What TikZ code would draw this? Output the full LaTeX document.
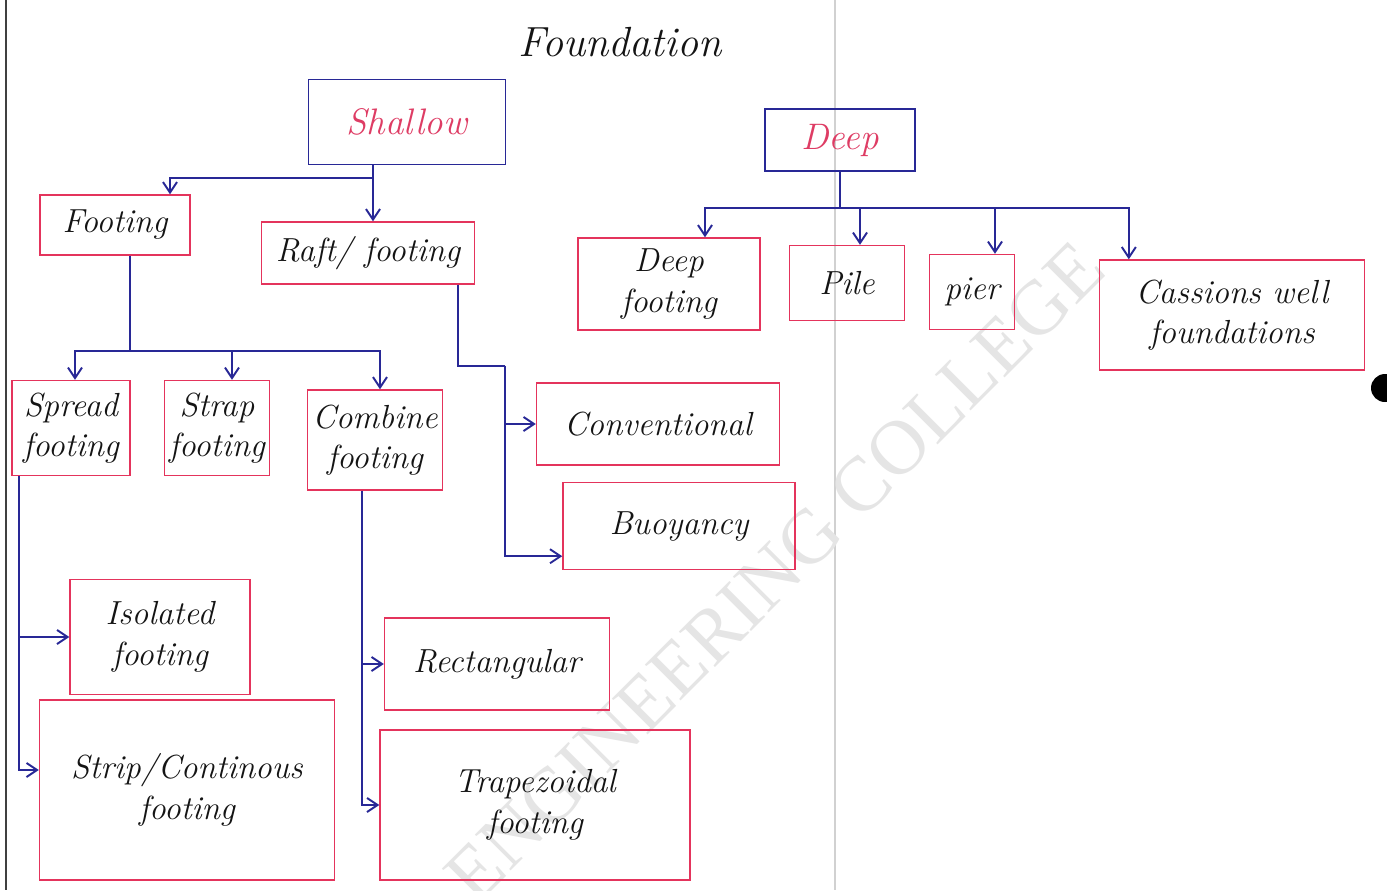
\documentclass[tikz,border=0pt]{standalone}
\usepackage{fontspec}
\newfontfamily\wmfont{Liberation Serif}
\usetikzlibrary{calc,arrows.meta}
\definecolor{boxred}{RGB}{228,52,92}
\definecolor{penblue}{RGB}{40,40,150}
\definecolor{inkred}{RGB}{222,60,100}
\definecolor{ink}{RGB}{20,20,20}
\tikzset{
  box/.style={draw=boxred, line width=0.8pt, align=center, text=ink,
    font=\fontsize{19}{23}\selectfont\itshape, inner sep=2pt},
  topbox/.style={draw=penblue, line width=1pt, align=center, text=inkred,
    font=\fontsize{21}{25}\selectfont\itshape},
  wire/.style={draw=penblue, line width=1.1pt},
  arr/.style={wire, -{Straight Barb[length=6pt,width=8pt]}},
}
\begin{document}
\begin{tikzpicture}[x=0.02cm, y=-0.02cm]
\useasboundingbox (0,0) rectangle (1387,890);
% page artefacts
\draw[black!75, line width=0.8pt] (6,0) -- (6,890);
\draw[black!18, line width=0.8pt] (835,0) -- (835,890);
\fill[black] (1385,388) circle (14);
% watermark
\node[rotate=45, text=black!10, font=\fontsize{44}{44}\selectfont\wmfont]
  (wm) at (775,572) {ENGINEERING COLLEGE};

% title
\node[font=\fontsize{24}{28}\selectfont\itshape, text=ink] (title) at (620,42) {Foundation};

% level 1
\node[topbox, minimum width=197*0.02cm, minimum height=85*0.02cm] (shallow) at (407,122) {Shallow};
\node[topbox, minimum width=150*0.02cm, minimum height=62*0.02cm] (deep) at (840,140) {Deep};

% level 2
\node[box, minimum width=150*0.02cm, minimum height=60*0.02cm] (footing) at (115,225) {Footing};
\node[box, minimum width=213*0.02cm, minimum height=62*0.02cm] (raft) at (368,253) {Raft/ footing};
\node[box, minimum width=182*0.02cm, minimum height=92*0.02cm] (dfoot) at (669,284) {Deep\\footing};
\node[box, minimum width=115*0.02cm, minimum height=75*0.02cm] (pile) at (847,283) {Pile};
\node[box, minimum width=85*0.02cm, minimum height=75*0.02cm] (pier) at (972,292) {pier};
\node[box, minimum width=265*0.02cm, minimum height=110*0.02cm] (cassion) at (1232,315) {Cassions well\\foundations};

% level 3
\node[box, minimum width=118*0.02cm, minimum height=95*0.02cm] (spread) at (71,428) {Spread\\footing};
\node[box, minimum width=105*0.02cm, minimum height=95*0.02cm] (strap) at (217,428) {Strap\\footing};
\node[box, minimum width=135*0.02cm, minimum height=100*0.02cm] (combine) at (375,440) {Combine\\footing};
\node[box, minimum width=243*0.02cm, minimum height=82*0.02cm] (conv) at (658,424) {Conventional};
\node[box, minimum width=232*0.02cm, minimum height=87*0.02cm] (buoy) at (679,526) {Buoyancy};

% level 4
\node[box, minimum width=180*0.02cm, minimum height=115*0.02cm] (iso) at (160,637) {Isolated\\footing};
\node[box, minimum width=225*0.02cm, minimum height=92*0.02cm] (rect) at (497,664) {Rectangular};
\node[box, minimum width=295*0.02cm, minimum height=180*0.02cm] (strip) at (187,790) {Strip/Continous\\footing};
\node[box, minimum width=310*0.02cm, minimum height=150*0.02cm] (trap) at (535,805) {Trapezoidal\\footing};

% Shallow branches
\draw[wire] ($(shallow.south)+(-34,0)$) -- ++(0,13) coordinate (sh1);
\coordinate (tfoot) at ($(footing.north)+(55,0)$);
\draw[arr] (sh1) -| (tfoot);
\draw[arr] (sh1) -- (sh1 |- raft.north);

% Deep branches
\draw[wire] (deep.south) -- ++(0,36) coordinate (d1);
\coordinate (tdf) at ($(dfoot.north)+(36,0)$);
\coordinate (tpile) at ($(pile.north)+(13,0)$);
\coordinate (tpier) at ($(pier.north)+(23,0)$);
\coordinate (tcas) at ($(cassion.north west)+(30,0)$);
\draw[arr] (d1) -| (tdf);
\draw[arr] (d1) -| (tcas);
\draw[arr] (tpile |- d1) -- (tpile);
\draw[arr] (tpier |- d1) -- (tpier);

% Footing branches
\draw[wire] ($(footing.south)+(15,0)$) -- ++(0,95) coordinate (f1);
\coordinate (tsp) at ($(spread.north)+(4,0)$);
\coordinate (tst) at ($(strap.north)+(15,0)$);
\coordinate (tcb) at ($(combine.north)+(5,0)$);
\draw[arr] (f1) -| (tsp);
\draw[arr] (f1) -| (tcb);
\draw[arr] (tst |- f1) -- (tst);

% Raft branches
\draw[wire] ($(raft.south)+(90,0)$) -- ++(0,81) coordinate (r1) -- ++(47,0) coordinate (r2);
\coordinate (tbu) at ($(buoy.south west)+(0,-14)$);
\draw[arr] (r2) |- (tbu);
\draw[arr] (r2 |- conv.west) -- (conv.west);

% Spread branches
\coordinate (s0) at ($(spread.south west)+(8,0)$);
\coordinate (tstrip) at ($(strip.west)+(0,-20)$);
\draw[arr] (s0) |- (tstrip);
\draw[arr] (s0 |- iso.west) -- (iso.west);

% Combine branches
\coordinate (c0) at ($(combine.south)+(-13,0)$);
\draw[arr] (c0) |- (trap.west);
\draw[arr] (c0 |- rect.west) -- (rect.west);
\end{tikzpicture}
\end{document}
